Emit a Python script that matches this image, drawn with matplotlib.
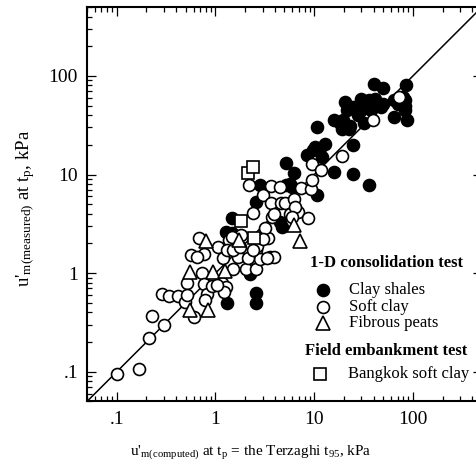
import numpy as np
import matplotlib as mpl
mpl.use('Agg')
import matplotlib.pyplot as plt
from matplotlib.ticker import FixedLocator, FixedFormatter, LogLocator, NullFormatter

plt.rcParams['font.family'] = ['Liberation Serif', 'DejaVu Serif']
plt.rcParams['mathtext.default'] = 'regular'

# 1-D consolidation test: clay shales (filled circles)
shale_x = [1.3, 2.6, 2.6, 2.24, 1.27, 1.47, 1.42, 1.47, 2.56, 2.8, 4.7, 4.5,
           5.2, 6.2, 5.2, 5.9, 5.7, 8.4, 10.6, 10.2, 10.6, 11.5, 12, 12.9, 9.8,
           16, 19.8, 22.3, 19, 20.6, 21.4, 25, 24.7, 25, 28, 30, 33, 36, 36,
           40, 50, 47, 50, 38, 64, 70, 84, 85, 87, 84, 80, 41, 15.7, 18.4, 23,
           31.6, 64, 84, 37, 43, 30]
shale_y = [0.5, 0.63, 0.5, 0.98, 2.6, 3.6, 2.4, 2.55, 5.3, 7.8, 2.95, 3.3,
           13, 10.4, 7.8, 7.5, 8.1, 15.7, 6.2, 19, 30.4, 18.4, 15, 20.6, 17.7,
           10.6, 35.6, 29, 29, 54.5, 45, 48, 20, 10.2, 40, 45, 52, 57, 7.8,
           82, 76, 48, 52, 45, 38, 52, 57, 80, 36, 45, 61, 59, 36, 33, 31,
           33, 57, 49, 47, 52, 59]

# 1-D consolidation test: soft clay (open circles)
soft_x = [0.10, 0.17, 0.21, 0.23, 0.30, 0.29, 0.34, 0.42, 0.49, 0.52, 0.52,
          0.61, 0.57, 0.68, 0.77, 0.73, 0.77, 0.82, 0.79, 0.92, 1.07, 1.20,
          1.16, 1.29, 1.22, 1.36, 1.30, 1.52, 1.71, 1.81, 2.05, 2.21, 2.39,
          2.33, 2.56, 2.60, 2.63, 2.80, 3.06, 3.64, 3.64, 3.70, 3.90, 3.44,
          3.20, 3.58, 3.90, 3.06, 4.6, 5.1, 5.7, 6.3, 6.8, 6.4, 7.4, 8.6,
          9.3, 9.5, 9.6, 11.8, 19.2, 39, 73, 4.5, 5.9, 0.65, 1.52, 2.15,
          3.3, 2.4, 1.77, 1.47, 1.03]
soft_y = [0.096, 0.106, 0.22, 0.37, 0.30, 0.61, 0.59, 0.59, 0.51, 0.80, 0.60,
          0.36, 1.52, 2.25, 1.58, 1.00, 0.78, 0.62, 0.53, 0.74, 1.85, 1.41,
          0.79, 0.73, 0.65, 2.19, 1.70, 1.11, 1.47, 2.43, 1.11, 7.8, 4.1,
          1.41, 1.11, 1.70, 1.90, 1.40, 6.2, 7.7, 5.2, 3.7, 4.0, 2.25,
          2.9, 1.47, 1.45, 2.2, 5.2, 5.1, 4.0, 5.6, 4.2, 4.7, 7.3, 3.6,
          7.2, 8.8, 12.9, 11.1, 15.4, 36, 61, 7.5, 3.7, 1.45, 1.7, 1.42,
          1.42, 1.7, 1.85, 2.35, 0.76]

# 1-D consolidation test: fibrous peats (triangles)
peat_x = [0.80, 0.55, 0.55, 0.85, 0.95, 1.25, 1.75, 6.2, 7.2]
peat_y = [2.1, 1.03, 0.42, 0.42, 1.03, 1.05, 2.15, 3.1, 2.1]

# Field embankment test: Bangkok soft clay (squares)
bkk_x = [2.13, 2.39, 1.81, 2.47]
bkk_y = [10.4, 12.0, 3.4, 2.3]

fig = plt.figure(figsize=(4.77, 4.73), dpi=100)
ax = fig.add_axes([0.1824, 0.1512, 0.828, 0.834])

lim = [0.05, 500]
ax.plot(lim, lim, color='k', lw=1.1, zorder=1)

ms = 8.6
mew = 1.2
ax.plot(shale_x, shale_y, 'o', ms=ms, mfc='k', mec='k', mew=mew, zorder=2)
ax.plot(soft_x, soft_y, 'o', ms=ms, mfc='w', mec='k', mew=mew, zorder=3)
ax.plot(peat_x, peat_y, '^', ms=9.5, mfc='w', mec='k', mew=mew, zorder=4)
ax.plot(bkk_x, bkk_y, 's', ms=8.5, mfc='w', mec='k', mew=mew, zorder=5)

ax.set_xscale('log')
ax.set_yscale('log')
ax.set_xlim(lim)
ax.set_ylim(lim)

ticks = [0.1, 1, 10, 100]
labels = ['.1', '1', '10', '100']
for axis in (ax.xaxis, ax.yaxis):
    axis.set_major_locator(FixedLocator(ticks))
    axis.set_major_formatter(FixedFormatter(labels))
    axis.set_minor_locator(LogLocator(base=10, subs=np.arange(2, 10)))
    axis.set_minor_formatter(NullFormatter())

ax.tick_params(which='both', direction='in', top=True, right=True, width=0.9)
ax.tick_params(which='major', length=6.5, labelsize=14, pad=6.5)
ax.tick_params(which='minor', length=3.6)
for s in ax.spines.values():
    s.set_linewidth(1.5)

ax.set_xlabel(r"u'$_{m(computed)}$ at t$_{p}$ = the Terzaghi t$_{95}$, kPa", fontsize=11)
ax.xaxis.set_label_coords(0.415, -0.107)
ax.set_ylabel(r"u'$_{m(measured)}$ at t$_{p}$, kPa", fontsize=13.5)
ax.yaxis.set_label_coords(-0.127, 0.49)

# legend drawn by hand
tr = ax.transAxes
ax.text(0.565, 0.351, '1-D consolidation test', transform=tr, fontsize=12,
        fontweight='bold', va='center', ha='left')
rows = [(0.283, 'o', 'k', 'Clay shales'),
        (0.240, 'o', 'w', 'Soft clay'),
        (0.199, '^', 'w', 'Fibrous peats')]
for yy, mk, fc, name in rows:
    ax.plot([0.597], [yy], mk, ms=ms if mk == 'o' else 9.5, mfc=fc, mec='k',
            mew=mew, transform=tr, clip_on=False, zorder=6)
    ax.text(0.663, yy, name, transform=tr, fontsize=12, va='center', ha='left')
ax.text(0.552, 0.128, 'Field embankment test', transform=tr, fontsize=12,
        fontweight='bold', va='center', ha='left')
ax.plot([0.590], [0.070], 's', ms=8.5, mfc='w', mec='k', mew=mew,
        transform=tr, clip_on=False, zorder=6)
ax.text(0.661, 0.070, 'Bangkok soft clay', transform=tr, fontsize=12,
        va='center', ha='left')

fig.savefig('out.png', dpi=100)
